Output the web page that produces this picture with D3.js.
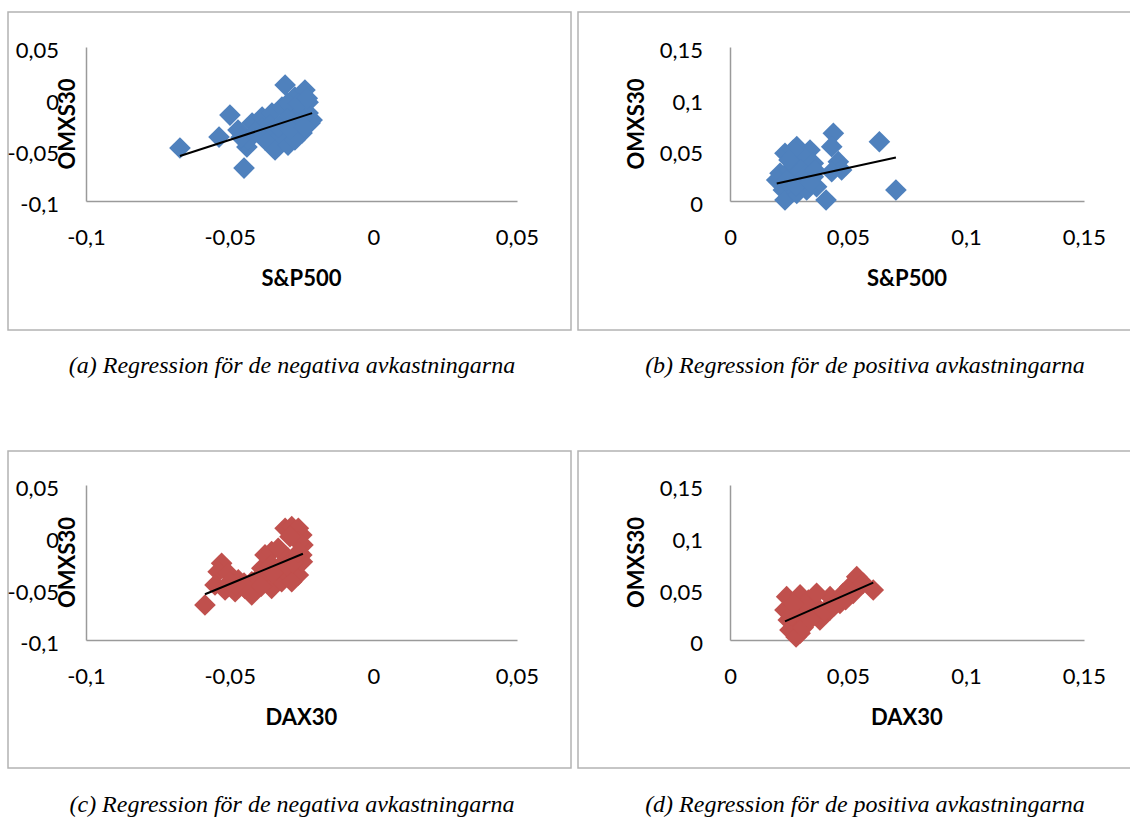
<!DOCTYPE html>
<html>
<head>
<meta charset="utf-8">
<script src="https://cdn.jsdelivr.net/npm/d3@7"></script>
<style>
  body { margin: 0; background: #fff; }
  svg { display: block; }
  .tick text { font-family: Lato, "Open Sans", sans-serif; font-size: 22px; fill: #000; }
  .axis-title { font-family: Lato, "Open Sans", sans-serif; font-size: 22px; font-weight: bold; fill: #000; }
  .caption { font-family: "Liberation Serif", "Times New Roman", serif; font-style: italic; font-size: 24px; fill: #000; }
</style>
</head>
<body>
<div id="chart"></div>
<script>
// --- data ---
// (a) S&P500 vs OMXS30, negative returns
var spNeg = [
  [-0.0673,-0.0484],[-0.0537,-0.0377],[-0.0499,-0.0163],[-0.0450,-0.0679],[-0.0440,-0.0474],
  [-0.0471,-0.0309],[-0.0436,-0.0406],[-0.0422,-0.0240],[-0.0387,-0.0182],[-0.0353,-0.0143],
  [-0.0318,-0.0085],[-0.0283,-0.0085],[-0.0266,-0.0143],[-0.0307,-0.0240],[-0.0283,-0.0338],
  [-0.0332,-0.0377],[-0.0342,-0.0503],[-0.0297,-0.0455],[-0.0248,-0.0338],[-0.0220,-0.0240],
  [-0.0248,-0.0114],[-0.0227,-0.0143],[-0.0213,-0.0211],[-0.0273,0.0013],[-0.0297,-0.0046],
  [-0.0307,0.0130],[-0.0238,0.0081],[-0.0227,-0.0038],[-0.0387,-0.0289],[-0.0360,-0.0260],
  [-0.0377,-0.0406],[-0.0255,-0.0260],[-0.0273,-0.0406],[-0.0250,-0.0200],[-0.0300,-0.0200],
  [-0.0330,-0.0280],[-0.0290,-0.0300],[-0.0240,-0.0280],[-0.0260,-0.0050],[-0.0230,0.0000],
  [-0.0410,-0.0330],[-0.0460,-0.0380]
];
// (b) S&P500 vs OMXS30, positive returns
var spPos = [
  [0.0438,0.0659],[0.0633,0.0577],[0.0431,0.0529],[0.0703,0.0107],[0.0407,0.0010],
  [0.0459,0.0383],[0.0473,0.0302],[0.0431,0.0285],[0.0283,0.0529],[0.0233,0.0464],
  [0.0339,0.0497],[0.0212,0.0270],[0.0226,0.0107],[0.0233,0.0010],[0.0283,0.0075],
  [0.0367,0.0139],[0.0325,0.0334],[0.0283,0.0399],[0.0254,0.0302],[0.0297,0.0204],
  [0.0353,0.0237],[0.0247,0.0172],[0.0311,0.0431],[0.0353,0.0367],[0.0198,0.0204],
  [0.0325,0.0107],[0.0268,0.0497],[0.0270,0.0350],[0.0300,0.0300],[0.0240,0.0200],
  [0.0280,0.0150],[0.0320,0.0250],[0.0360,0.0300],[0.0250,0.0400],[0.0340,0.0180]
];
// (c) DAX30 vs OMXS30, negative returns
var daxNeg = [
  [-0.0586,-0.0661],[-0.0528,-0.0258],[-0.0540,-0.0339],[-0.0505,-0.0355],[-0.0551,-0.0468],
  [-0.0516,-0.0516],[-0.0481,-0.0532],[-0.0470,-0.0419],[-0.0447,-0.0500],[-0.0423,-0.0436],
  [-0.0412,-0.0516],[-0.0388,-0.0306],[-0.0377,-0.0177],[-0.0354,-0.0145],[-0.0331,-0.0112],
  [-0.0354,-0.0274],[-0.0366,-0.0436],[-0.0354,-0.0500],[-0.0319,-0.0436],[-0.0307,-0.0339],
  [-0.0296,-0.0209],[-0.0273,-0.0274],[-0.0261,-0.0371],[-0.0249,-0.0177],[-0.0245,-0.0080],
  [-0.0249,0.0016],[-0.0307,0.0081],[-0.0284,0.0097],[-0.0261,0.0081],[-0.0423,-0.0564],
  [-0.0284,-0.0436],[-0.0247,-0.0242],[-0.0450,-0.0450],[-0.0400,-0.0400],[-0.0330,-0.0300],
  [-0.0300,-0.0280],[-0.0280,-0.0250],[-0.0350,-0.0350],[-0.0480,-0.0470],[-0.0260,-0.0050],
  [-0.0260,-0.0150],[-0.0290,0.0000],[-0.0390,-0.0480],[-0.0500,-0.0440]
];
// (d) DAX30 vs OMXS30, positive returns
var daxPos = [
  [0.0247,0.0194],[0.0233,0.0290],[0.0240,0.0419],[0.0297,0.0436],[0.0254,0.0097],
  [0.0297,0.0065],[0.0283,0.0177],[0.0332,0.0387],[0.0339,0.0258],[0.0367,0.0322],
  [0.0381,0.0194],[0.0424,0.0290],[0.0424,0.0419],[0.0466,0.0355],[0.0480,0.0452],
  [0.0508,0.0516],[0.0537,0.0613],[0.0522,0.0452],[0.0565,0.0549],[0.0607,0.0484],
  [0.0275,0.0081],[0.0367,0.0452],[0.0280,0.0030],[0.0310,0.0120],[0.0340,0.0200],
  [0.0400,0.0280],[0.0440,0.0330],[0.0300,0.0300],[0.0260,0.0240],[0.0320,0.0340],
  [0.0270,0.0350],[0.0490,0.0390]
];

// trendlines [slope, intercept]
var trendA = [0.908, 0.0049];
var trendB = [0.50, 0.0072];
var trendC = [1.151, 0.0117];
var trendD = [1.003, -0.0054];

var negTicks = [-0.1, -0.05, 0, 0.05];
var posTicks = [0, 0.05, 0.1, 0.15];

var xTitles = ["S&P500", "S&P500", "DAX30", "DAX30"];
var yTitle = "OMXS30";
var captions = [
  "(a) Regression för de negativa avkastningarna",
  "(b) Regression för de positiva avkastningarna",
  "(c) Regression för de negativa avkastningarna",
  "(d) Regression för de positiva avkastningarna"
];

var blue = "#4f81bd", red = "#c0504d";

var W = 1130, H = 820;
var svg = d3.select("#chart").append("svg")
  .attr("width", W).attr("height", H);

var sv = d3.formatLocale({decimal: ",", thousands: " ", grouping: [3], currency: ["", ""], minus: "-"});
var fmt = sv.format("~g");

// layout of each panel
var panels = [
  {pts: spNeg,  trend: trendA, ticks: negTicks, color: blue, frame: [8, 12, 563, 318],   px: [86, 517],  py: [201, 47],  yt: 67,  cap: [292, 365]},
  {pts: spPos,  trend: trendB, ticks: posTicks, color: blue, frame: [578, 12, 570, 318], px: [730, 1084], py: [201, 47],  yt: 636, cap: [865, 365]},
  {pts: daxNeg, trend: trendC, ticks: negTicks, color: red,  frame: [8, 451, 563, 317],  px: [86, 517],  py: [640, 485], yt: 67,  cap: [292, 804]},
  {pts: daxPos, trend: trendD, ticks: posTicks, color: red,  frame: [578, 451, 570, 317],px: [730, 1084], py: [640, 485], yt: 636, cap: [865, 804]}
];

var diamond = d3.symbol(d3.symbolSquare, 235);

panels.forEach(function(p, i) {
  var g = svg.append("g");

  g.append("rect")
    .attr("x", p.frame[0]).attr("y", p.frame[1])
    .attr("width", p.frame[2]).attr("height", p.frame[3])
    .attr("fill", "none").attr("stroke", "#b3b3b3").attr("stroke-width", 1.5);

  var dom = d3.extent(p.ticks);
  var x = d3.scaleLinear().domain(dom).range(p.px);
  var y = d3.scaleLinear().domain(dom).range(p.py);

  var xAxis = d3.axisBottom(x).tickValues(p.ticks).tickFormat(fmt).tickSize(0);
  var yAxis = d3.axisLeft(y).tickValues(p.ticks).tickFormat(fmt).tickSize(0);

  g.append("g")
    .attr("transform", "translate(0," + p.py[0] + ")")
    .call(xAxis)
    .call(function(a) {
      a.select(".domain").attr("stroke", "#9a9a9a").attr("stroke-width", 1.5);
      a.selectAll("text").attr("y", 36).attr("dy", "0.35em");
    });

  g.append("g")
    .attr("transform", "translate(" + p.px[0] + ",0)")
    .call(yAxis)
    .call(function(a) {
      a.select(".domain").attr("stroke", "#9a9a9a").attr("stroke-width", 1.5);
      a.selectAll("text").attr("x", -27).attr("y", 3).attr("dy", "0.35em");
    });

  // markers
  g.append("g").selectAll("path")
    .data(p.pts).enter()
    .append("path")
    .attr("d", diamond)
    .attr("transform", function(d) { return "translate(" + x(d[0]) + "," + y(d[1]) + ") rotate(45)"; })
    .attr("fill", p.color);

  // linear trendline over the data range
  var ex = d3.extent(p.pts, function(d) { return d[0]; });
  g.append("line")
    .attr("x1", x(ex[0])).attr("y1", y(p.trend[0] * ex[0] + p.trend[1]))
    .attr("x2", x(ex[1])).attr("y2", y(p.trend[0] * ex[1] + p.trend[1]))
    .attr("stroke", "#000").attr("stroke-width", 2);

  g.append("text").attr("class", "axis-title")
    .attr("x", (p.px[0] + p.px[1]) / 2).attr("y", p.py[0] + 77)
    .attr("dy", "0.35em").attr("text-anchor", "middle")
    .text(xTitles[i]);

  g.append("text").attr("class", "axis-title")
    .attr("transform", "translate(" + p.yt + "," + (p.py[0] + p.py[1]) / 2 + ") rotate(-90)")
    .attr("dy", "0.35em").attr("text-anchor", "middle")
    .text(yTitle);

  svg.append("text").attr("class", "caption")
    .attr("x", p.cap[0]).attr("y", p.cap[1])
    .attr("dy", "0.35em").attr("text-anchor", "middle")
    .text(captions[i]);
});
</script>
</body>
</html>
